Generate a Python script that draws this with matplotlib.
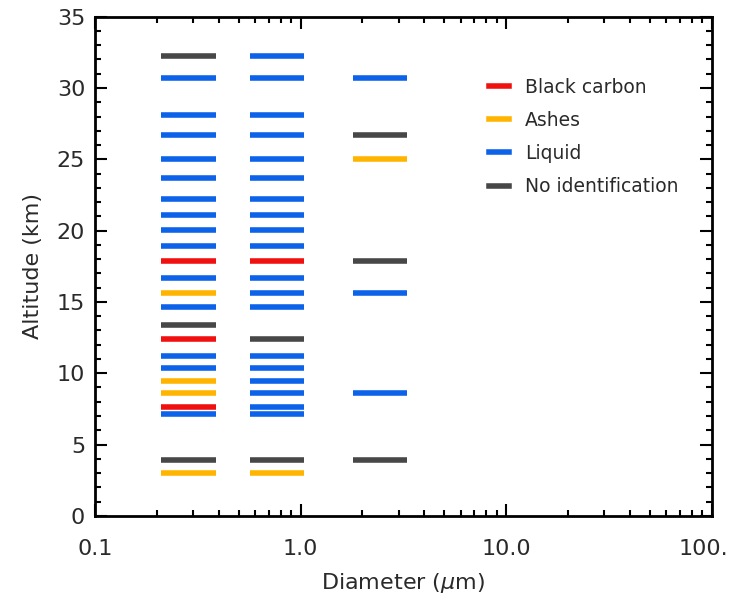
import matplotlib
matplotlib.use("Agg")
import matplotlib.pyplot as plt
from matplotlib.lines import Line2D
from matplotlib.ticker import FixedLocator, MultipleLocator, NullFormatter
from matplotlib.transforms import ScaledTranslation

# particle classes and their colours
classes = ["Black carbon", "Ashes", "Liquid", "No identification"]
class_colors = {"Black carbon": "#f01010", "Ashes": "#ffb400",
                "Liquid": "#0c62e8", "No identification": "#474747"}

# diameter ranges (um) of the three size columns
col1_range = (0.21, 0.39)
col2_range = (0.57, 1.04)
col3_range = (1.8, 3.3)

# altitude (km) and class of each detection, per size column
col1_alt = [32.26, 30.69, 28.14, 26.70, 25.04, 23.70, 22.25, 21.11, 20.03, 18.93,
            17.85, 16.67, 15.59, 14.63, 13.37, 12.39, 11.24, 10.40, 9.42, 8.63,
            7.60, 7.15, 3.91, 2.99]
col1_cls = ["No identification", "Liquid", "Liquid", "Liquid", "Liquid", "Liquid",
            "Liquid", "Liquid", "Liquid", "Liquid", "Black carbon", "Liquid",
            "Ashes", "Liquid", "No identification", "Black carbon", "Liquid",
            "Liquid", "Ashes", "Ashes", "Black carbon", "Liquid",
            "No identification", "Ashes"]

col2_alt = [32.26, 30.69, 28.14, 26.70, 25.04, 23.70, 22.25, 21.11, 20.03, 18.93,
            17.85, 16.67, 15.59, 14.63, 12.39, 11.24, 10.40, 9.42, 8.63,
            7.60, 7.15, 3.91, 2.99]
col2_cls = ["Liquid", "Liquid", "Liquid", "Liquid", "Liquid", "Liquid",
            "Liquid", "Liquid", "Liquid", "Liquid", "Black carbon", "Liquid",
            "Liquid", "Liquid", "No identification", "Liquid", "Liquid",
            "Liquid", "Liquid", "Liquid", "Liquid", "No identification", "Ashes"]

col3_alt = [30.69, 26.70, 25.04, 17.85, 15.59, 8.63, 3.91]
col3_cls = ["Liquid", "No identification", "Ashes", "No identification",
            "Liquid", "Liquid", "No identification"]

xtick_vals = [0.1, 1, 10, 100]
xtick_labels = ["0.1", "1.0", "10.0", "100."]

fig = plt.figure(figsize=(7.3, 5.97), dpi=100)
ax = fig.add_axes([0.130, 0.136, 0.845, 0.836])

for (x0, x1), alts, cls in [(col1_range, col1_alt, col1_cls),
                            (col2_range, col2_alt, col2_cls),
                            (col3_range, col3_alt, col3_cls)]:
    ax.hlines(alts, x0, x1, colors=[class_colors[c] for c in cls], linewidth=4)

ax.set_xscale("log")
ax.set_xlim(0.1, 100)
ax.set_ylim(0, 35)

ax.xaxis.set_major_locator(FixedLocator(xtick_vals))
ax.set_xticklabels(xtick_labels)
ax.xaxis.set_minor_locator(FixedLocator([m * 10.0 ** e for e in (-1, 0, 1) for m in range(2, 10)]))
ax.xaxis.set_minor_formatter(NullFormatter())
ax.yaxis.set_major_locator(MultipleLocator(5))
ax.yaxis.set_minor_locator(MultipleLocator(1))

ax.tick_params(which="both", direction="in", top=True, right=True,
               labelsize=16, labelcolor="#2a2a2a", width=1.5)
ax.tick_params(which="major", length=8.5)
ax.tick_params(which="minor", length=4.3)
ax.tick_params(axis="x", pad=17)
ax.tick_params(axis="y", pad=7)
# last label sits at the figure edge: right-align it and nudge it to the edge
last = ax.get_xticklabels()[-1]
last.set_horizontalalignment("right")
last.set_transform(last.get_transform() + ScaledTranslation(0.16, 0, fig.dpi_scale_trans))
for s in ax.spines.values():
    s.set_linewidth(2)

ax.set_xlabel("Diameter ($\\mu$m)", fontsize=16, color="#2a2a2a", labelpad=8)
ax.set_ylabel("Altitude (km)", fontsize=16, color="#2a2a2a", labelpad=10)

handles = [Line2D([], [], color=class_colors[c], linewidth=4) for c in classes]
ax.legend(handles, classes, loc="upper left", bbox_to_anchor=(0.611, 0.912),
          frameon=False, fontsize=13.5, handlelength=1.07, handletextpad=0.85,
          labelspacing=0.76, labelcolor="#2a2a2a")

fig.savefig("out.png", dpi=100)
